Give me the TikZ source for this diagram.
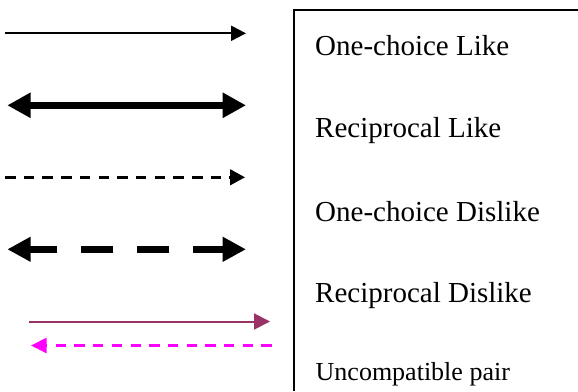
\documentclass[tikz,border=0pt]{standalone}
\usepackage{fontspec}
\setmainfont{Liberation Serif}
\usetikzlibrary{arrows.meta}
\definecolor{plum}{RGB}{153,51,102}
\definecolor{pink}{RGB}{255,0,255}
\begin{document}
\begin{tikzpicture}[x=1pt,y=-1pt,
  onelike/.style={line width=2pt,-{Triangle[length=15pt,width=15pt]}},
  reclike/.style={line width=7.3pt,{Triangle[length=23.4pt,width=24pt]}-{Triangle[length=23.4pt,width=24pt]}},
  onedislike/.style={line width=2.7pt,dash pattern=on 10.5pt off 8.2pt,-{Triangle[length=15pt,width=15.6pt]}},
  recdislike/.style={line width=7.3pt,dash pattern=on 32pt off 24pt,dash phase=4pt,{Triangle[length=23.4pt,width=23.5pt]}-{Triangle[length=23.4pt,width=23.5pt]}},
  pairfwd/.style={plum,line width=2pt,-{Triangle[length=16pt,width=16pt]}},
  pairback/.style={pink,line width=3pt,dash pattern=on 10.3pt off 8.4pt,-{Triangle[length=15.7pt,width=15pt]}},
  legtext/.style={anchor=base west,inner sep=0pt,font=\fontsize{29}{34}\selectfont},
  frame/.style={line width=1.2pt}]
\useasboundingbox (0,0) rectangle (578,391);

% legend frame (open to the right and bottom)
\coordinate (fb) at (294,391);
\coordinate (ftl) at (294,10);
\coordinate (fr) at (578,10);
\draw[frame] (fb) -- (ftl) -- (fr);

% line samples
\coordinate (a1) at (5,33.3);     \coordinate (b1) at (246,33.3);
\coordinate (a2) at (7.3,105.3);  \coordinate (b2) at (246,105.3);
\coordinate (a3) at (5,177.3);    \coordinate (b3) at (245,177.3);
\coordinate (a4) at (7.3,249.3);  \coordinate (b4) at (246,249.3);
\coordinate (a5) at (29.3,321.5); \coordinate (b5) at (270,321.5);
\coordinate (a6) at (271.7,345.5);\coordinate (b6) at (31,345.5);

\draw[onelike] (a1) -- (b1);
\draw[reclike] (a2) -- (b2);
\draw[onedislike] (a3) -- (b3);
\draw[recdislike] (a4) -- (b4);
\draw[pairfwd] (a5) -- (b5);
\draw[pairback] (a6) -- (b6);

% labels
\node[legtext] (t1) at (315,55) {One-choice Like};
\node[legtext] (t2) at (315,137) {Reciprocal Like};
\node[legtext] (t3) at (315,221) {One-choice Dislike};
\node[legtext] (t4) at (315,302) {Reciprocal Dislike};
\node[legtext,font=\fontsize{26}{31}\selectfont] (t5) at (315.5,380) {Uncompatible pair};
\end{tikzpicture}
\end{document}
